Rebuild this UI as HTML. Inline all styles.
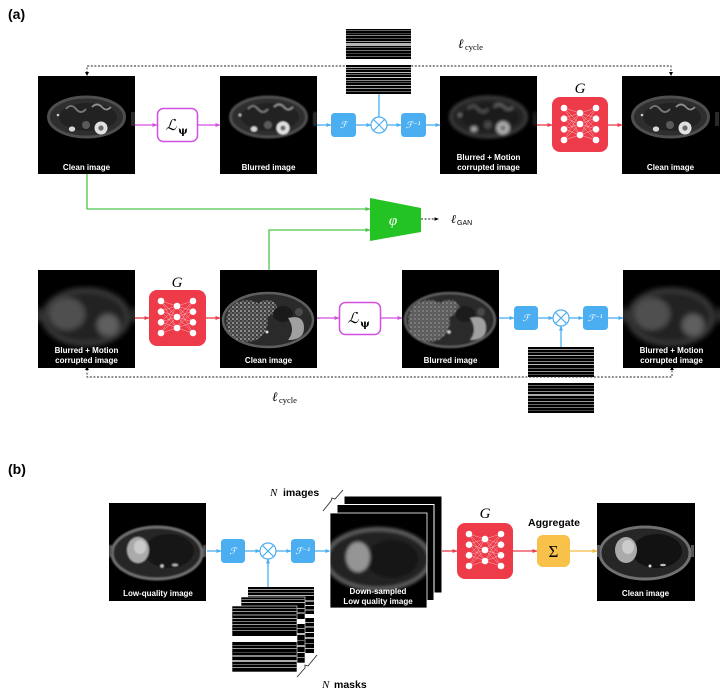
<!DOCTYPE html>
<html><head><meta charset="utf-8"><style>
html,body{margin:0;padding:0;background:#fff;}
svg{display:block;}
.lbl{font-family:"Liberation Sans",sans-serif;font-weight:bold;font-size:8px;fill:#fff;text-anchor:middle;}
.fb{font-family:"DejaVu Serif","Liberation Serif",serif;font-style:italic;font-size:9px;fill:#fff;text-anchor:middle;}
.ser{font-family:"Liberation Serif","DejaVu Serif",serif;}
</style></head><body>
<svg width="720" height="695" viewBox="0 0 720 695" xmlns="http://www.w3.org/2000/svg">
<defs>
<clipPath id="cimg" clipPathUnits="userSpaceOnUse"><rect width="97" height="98"/></clipPath>
<clipPath id="cimg2" clipPathUnits="userSpaceOnUse"><rect width="97" height="95"/></clipPath>
<filter id="bl1" x="-10%" y="-10%" width="120%" height="120%"><feGaussianBlur stdDeviation="0.8"/></filter>
<filter id="bl2" x="-10%" y="-10%" width="120%" height="120%"><feGaussianBlur stdDeviation="1.7"/></filter>
<filter id="bl3" x="-10%" y="-10%" width="120%" height="120%"><feGaussianBlur stdDeviation="2.6"/></filter>
<pattern id="spk" width="4" height="4" patternUnits="userSpaceOnUse">
<rect width="4" height="4" fill="#3e3e3e"/><circle cx="1" cy="1" r="0.9" fill="#c4c4c4"/><circle cx="3" cy="3" r="0.7" fill="#9a9a9a"/>
</pattern>
<marker id="mB" markerWidth="5" markerHeight="5" refX="4.5" refY="2.5" orient="auto" markerUnits="userSpaceOnUse"><path d="M0,0.5 L5,2.5 L0,4.5z" fill="#4aaef0"/></marker>
<marker id="mR" markerWidth="5" markerHeight="5" refX="4.5" refY="2.5" orient="auto" markerUnits="userSpaceOnUse"><path d="M0,0.5 L5,2.5 L0,4.5z" fill="#ee3b4a"/></marker>
<marker id="mM" markerWidth="5" markerHeight="5" refX="4.5" refY="2.5" orient="auto" markerUnits="userSpaceOnUse"><path d="M0,0.5 L5,2.5 L0,4.5z" fill="#d24fe0"/></marker>
<marker id="mG" markerWidth="5" markerHeight="5" refX="4.5" refY="2.5" orient="auto" markerUnits="userSpaceOnUse"><path d="M0,0.5 L5,2.5 L0,4.5z" fill="#4cc54c"/></marker>
<marker id="mO" markerWidth="5" markerHeight="5" refX="4.5" refY="2.5" orient="auto" markerUnits="userSpaceOnUse"><path d="M0,0.5 L5,2.5 L0,4.5z" fill="#f4b942"/></marker>
<marker id="mK" markerWidth="5" markerHeight="5" refX="4.5" refY="2.5" orient="auto" markerUnits="userSpaceOnUse"><path d="M0,0.8 L4.5,2.5 L0,4.2z" fill="#000"/></marker>

<!-- top-row abdomen (kidney level) content -->
<g id="kidI">
<ellipse cx="48.5" cy="41" rx="38" ry="20" fill="#2e2e2e" stroke="#4e4e4e" stroke-width="3"/>
<ellipse cx="50" cy="41" rx="29" ry="14" fill="#222"/>
<path d="M28 33 q5 -6 10 0 q5 6 10 0" stroke="#7a7a7a" fill="none" stroke-width="1.8"/>
<path d="M54 31 q5 -5 10 0 q4 5 9 0" stroke="#8f8f8f" fill="none" stroke-width="1.8"/>
<circle cx="63" cy="52" r="6.5" fill="#e0e0e0"/><circle cx="63" cy="52" r="2.6" fill="#6a6a6a"/>
<ellipse cx="34" cy="53" rx="3.2" ry="2.6" fill="#d6d6d6"/>
<circle cx="48" cy="49" r="4" fill="#5a5a5a"/>
<circle cx="20" cy="39" r="1.3" fill="#ccc"/>
<rect x="93" y="36" width="4" height="14" fill="#2a2a2a"/>
</g>
<!-- bottom-row liver slice content -->
<g id="livI">
<ellipse cx="48" cy="50" rx="45" ry="27" fill="#2a2a2a" stroke="#5e5e5e" stroke-width="2.5"/>
<ellipse cx="27" cy="51" rx="21" ry="21" fill="url(#spk)"/>
<ellipse cx="47" cy="38" rx="10" ry="8" fill="url(#spk)"/>
<ellipse cx="63" cy="44" rx="10" ry="8" fill="#1a1a1a"/>
<path d="M68 48 q16 -4 16 10 q0 12 -16 12 q8 -10 0 -22z" fill="#a0a0a0"/>
<circle cx="79" cy="42" r="4" fill="#4a4a4a"/>
<circle cx="47" cy="62" r="1.5" fill="#ddd"/>
</g>
<g id="livMI">
<ellipse cx="48" cy="47" rx="42" ry="27" fill="#222" stroke="#3a3a3a" stroke-width="5"/>
<ellipse cx="29" cy="44" rx="18" ry="16" fill="#505050"/>
<ellipse cx="70" cy="55" rx="11" ry="11" fill="#5e5e5e"/>
<rect x="-3" y="38" width="6" height="14" fill="#333"/>
<rect x="94" y="38" width="6" height="14" fill="#333"/>
</g>
<!-- part b body -->
<g id="lesI">
<ellipse cx="48" cy="50" rx="45" ry="26" fill="#262626" stroke="#707070" stroke-width="3"/>
<ellipse cx="60" cy="48" rx="25" ry="17" fill="#121212"/>
<ellipse cx="29" cy="47" rx="11" ry="13" fill="#aaaaaa"/>
<ellipse cx="31" cy="44" rx="6" ry="7" fill="#cbcbcb"/>
<circle cx="53" cy="63" r="1.5" fill="#ddd"/>
<ellipse cx="66" cy="62" rx="3" ry="1.2" fill="#bbb"/>
<rect x="0" y="42" width="3" height="12" fill="#555"/>
<rect x="94" y="42" width="3" height="12" fill="#555"/>
</g>
<g id="lesZI">
<ellipse cx="48" cy="46" rx="52" ry="30" fill="#222" stroke="#5e5e5e" stroke-width="4"/>
<ellipse cx="62" cy="46" rx="26" ry="19" fill="#121212"/>
<ellipse cx="28" cy="44" rx="12" ry="15" fill="#959595"/>
</g>
<g id="gnet">
<g stroke="#f8b0b6" stroke-width="0.5">
<path d="M12 11 L28 16 M12 11 L28 27 M12 21 L28 16 M12 21 L28 38 M12 32 L28 16 M12 32 L28 27 M12 43 L28 27 M12 43 L28 38 M12 21 L28 27 M12 32 L28 38 M12 11 L28 38 M12 43 L28 16"/>
<path d="M44 11 L28 16 M44 11 L28 27 M44 21 L28 16 M44 21 L28 38 M44 32 L28 16 M44 32 L28 27 M44 43 L28 27 M44 43 L28 38 M44 21 L28 27 M44 32 L28 38 M44 11 L28 38 M44 43 L28 16"/>
</g>
<g fill="#fff"><circle cx="12" cy="11" r="3.3"/><circle cx="12" cy="21.7" r="3.3"/><circle cx="12" cy="32.3" r="3.3"/><circle cx="12" cy="43" r="3.3"/>
<circle cx="28" cy="16" r="3.3"/><circle cx="28" cy="27" r="3.3"/><circle cx="28" cy="38" r="3.3"/>
<circle cx="44" cy="11" r="3.3"/><circle cx="44" cy="21.7" r="3.3"/><circle cx="44" cy="32.3" r="3.3"/><circle cx="44" cy="43" r="3.3"/></g>
</g>
</defs>

<rect width="720" height="695" fill="#fff"/>

<!-- ===== (a) ===== -->
<text x="8" y="19" font-family="Liberation Sans,sans-serif" font-weight="bold" font-size="14">(a)</text>

<!-- top dashed cycle -->
<path d="M87 73 V66 H671 V73" fill="none" stroke="#222" stroke-width="0.9" stroke-dasharray="2,1.6"/>
<path d="M85 72 L89 72 L87 76z" fill="#000"/>
<path d="M669 72 L673 72 L671 76z" fill="#000"/>
<text x="458" y="48" class="ser" font-style="italic" font-size="13">ℓ</text>
<text x="465" y="50" class="ser" font-size="8.5">cycle</text>

<!-- top masks -->
<g>
<rect x="346" y="29" width="65" height="30" fill="#000"/>
<rect x="346" y="30" width="65" height="1" fill="#666"/>
<rect x="346" y="33" width="65" height="1" fill="#444"/>
<rect x="346" y="35" width="65" height="1" fill="#888"/>
<rect x="346" y="38" width="65" height="1" fill="#555"/>
<rect x="346" y="41" width="65" height="1" fill="#999"/>
<rect x="346" y="43" width="65" height="3" fill="#b5b5b5"/>
<rect x="346" y="47" width="65" height="1" fill="#666"/>
<rect x="346" y="50" width="65" height="1" fill="#777"/>
<rect x="346" y="53" width="65" height="1" fill="#444"/>
<rect x="346" y="56" width="65" height="1" fill="#6a6a6a"/>
<rect x="346" y="65" width="65" height="29" fill="#000"/>
<rect x="346" y="67" width="65" height="1" fill="#aaa"/>
<rect x="346" y="69" width="65" height="1" fill="#777"/>
<rect x="346" y="72" width="65" height="1" fill="#bbb"/>
<rect x="346" y="74" width="65" height="1" fill="#666"/>
<rect x="346" y="77" width="65" height="1" fill="#ccc"/>
<rect x="346" y="80" width="65" height="1" fill="#888"/>
<rect x="346" y="82" width="65" height="1" fill="#555"/>
<rect x="346" y="85" width="65" height="1" fill="#aaa"/>
<rect x="346" y="88" width="65" height="1" fill="#999"/>
<rect x="346" y="91" width="65" height="1" fill="#666"/>
</g>

<!-- top row images -->
<g transform="translate(38,76)"><rect width="97" height="98" fill="#000"/><g clip-path="url(#cimg)"><use href="#kidI"/></g></g>
<text x="86.5" y="170" class="lbl">Clean image</text>
<g transform="translate(220,76)"><rect width="97" height="98" fill="#000"/><g clip-path="url(#cimg)"><g filter="url(#bl1)"><use href="#kidI"/></g></g></g>
<text x="268.5" y="170" class="lbl">Blurred image</text>
<g transform="translate(440,76)"><rect width="97" height="98" fill="#000"/><g clip-path="url(#cimg)"><g filter="url(#bl2)" opacity="0.8"><use href="#kidI"/></g></g></g>
<text x="488.5" y="160" class="lbl">Blurred + Motion</text>
<text x="488.5" y="170" class="lbl">corrupted image</text>
<g transform="translate(622,76)"><rect width="98" height="98" fill="#000"/><g clip-path="url(#cimg)"><use href="#kidI"/></g></g>
<text x="670.5" y="170" class="lbl">Clean image</text>

<!-- L psi top -->
<rect x="157.5" y="108.5" width="40" height="33" rx="6" fill="#fff" stroke="#d24fe0" stroke-width="1.5"/>
<text x="171" y="130" font-family="DejaVu Serif,serif" font-style="italic" font-size="15" text-anchor="middle">ℒ</text>
<text x="183" y="134" font-family="DejaVu Serif,serif" font-weight="bold" font-size="10" text-anchor="middle">ψ</text>
<line x1="135" y1="125" x2="157" y2="125" stroke="#d24fe0" stroke-width="1.3" marker-end="url(#mM)"/>
<line x1="198" y1="125" x2="220" y2="125" stroke="#d24fe0" stroke-width="1.3" marker-end="url(#mM)"/>

<!-- top fourier -->
<line x1="317" y1="125" x2="331" y2="125" stroke="#4aaef0" stroke-width="1.3" marker-end="url(#mB)"/>
<rect x="331" y="113" width="25" height="24" rx="3.5" fill="#4aaef0"/>
<text x="343.5" y="128" class="fb">ℱ</text>
<line x1="356" y1="125" x2="371" y2="125" stroke="#4aaef0" stroke-width="1.3" marker-end="url(#mB)"/>
<circle cx="379" cy="125" r="8" fill="#fff" stroke="#4aaef0" stroke-width="1.2"/>
<path d="M373.3 119.3 L384.7 130.7 M384.7 119.3 L373.3 130.7" stroke="#4aaef0" stroke-width="1.1"/>
<line x1="379" y1="94" x2="379" y2="117" stroke="#4aaef0" stroke-width="1.3"/>
<line x1="387" y1="125" x2="401" y2="125" stroke="#4aaef0" stroke-width="1.3" marker-end="url(#mB)"/>
<rect x="401" y="113" width="25" height="24" rx="3.5" fill="#4aaef0"/>
<text x="413.5" y="128" class="fb">ℱ⁻¹</text>
<line x1="426" y1="125" x2="440" y2="125" stroke="#4aaef0" stroke-width="1.3" marker-end="url(#mB)"/>

<!-- top G -->
<line x1="537" y1="125" x2="552" y2="125" stroke="#ee3b4a" stroke-width="1.3" marker-end="url(#mR)"/>
<text x="580" y="93" class="ser" font-style="italic" font-size="15" text-anchor="middle">G</text>
<g transform="translate(552,97)"><rect width="56" height="55" rx="8" fill="#ee3b4a"/><use href="#gnet"/></g>
<line x1="608" y1="125" x2="622" y2="125" stroke="#ee3b4a" stroke-width="1.3" marker-end="url(#mR)"/>

<!-- green discriminator paths -->
<path d="M87 174 V209 H370" fill="none" stroke="#4cc54c" stroke-width="1.3" marker-end="url(#mG)"/>
<path d="M269 270 V230 H370" fill="none" stroke="#4cc54c" stroke-width="1.3" marker-end="url(#mG)"/>
<polygon points="370,198 421,208 421,232 370,241" fill="#22c322"/>
<text x="393" y="225" class="ser" font-style="italic" font-size="15" fill="#fff" text-anchor="middle">φ</text>
<line x1="421" y1="219" x2="439" y2="219" stroke="#222" stroke-width="0.9" stroke-dasharray="2,1.6" marker-end="url(#mK)"/>
<text x="451" y="223" class="ser" font-style="italic" font-size="12">ℓ</text>
<text x="457" y="225" font-family="Liberation Sans,sans-serif" font-size="7">GAN</text>

<!-- bottom row -->
<g transform="translate(38,270)"><rect width="97" height="98" fill="#000"/><g clip-path="url(#cimg)"><g filter="url(#bl3)"><use href="#livMI"/></g></g></g>
<text x="86.5" y="353" class="lbl">Blurred + Motion</text>
<text x="86.5" y="363" class="lbl">corrupted image</text>
<line x1="135" y1="318" x2="149" y2="318" stroke="#ee3b4a" stroke-width="1.3" marker-end="url(#mR)"/>
<text x="177" y="287" class="ser" font-style="italic" font-size="15" text-anchor="middle">G</text>
<g transform="translate(149,290)"><rect width="57" height="56" rx="8" fill="#ee3b4a"/><use href="#gnet"/></g>
<line x1="206" y1="318" x2="220" y2="318" stroke="#ee3b4a" stroke-width="1.3" marker-end="url(#mR)"/>
<g transform="translate(220,270)"><rect width="97" height="98" fill="#000"/><g clip-path="url(#cimg)"><use href="#livI"/></g></g>
<text x="268.5" y="363" class="lbl">Clean image</text>
<line x1="317" y1="318" x2="339" y2="318" stroke="#d24fe0" stroke-width="1.3" marker-end="url(#mM)"/>
<rect x="339.5" y="302.5" width="41" height="32" rx="6" fill="#fff" stroke="#d24fe0" stroke-width="1.5"/>
<text x="353" y="323" font-family="DejaVu Serif,serif" font-style="italic" font-size="15" text-anchor="middle">ℒ</text>
<text x="365" y="327" font-family="DejaVu Serif,serif" font-weight="bold" font-size="10" text-anchor="middle">ψ</text>
<line x1="381" y1="318" x2="402" y2="318" stroke="#d24fe0" stroke-width="1.3" marker-end="url(#mM)"/>
<g transform="translate(402,270)"><rect width="97" height="98" fill="#000"/><g clip-path="url(#cimg)"><g filter="url(#bl1)"><use href="#livI"/></g></g></g>
<text x="450.5" y="363" class="lbl">Blurred image</text>
<line x1="499" y1="318" x2="514" y2="318" stroke="#4aaef0" stroke-width="1.3" marker-end="url(#mB)"/>
<rect x="514" y="306" width="24" height="24" rx="3.5" fill="#4aaef0"/>
<text x="526" y="321" class="fb">ℱ</text>
<line x1="538" y1="318" x2="553" y2="318" stroke="#4aaef0" stroke-width="1.3" marker-end="url(#mB)"/>
<circle cx="561" cy="318" r="8" fill="#fff" stroke="#4aaef0" stroke-width="1.2"/>
<path d="M555.3 312.3 L566.7 323.7 M566.7 312.3 L555.3 323.7" stroke="#4aaef0" stroke-width="1.1"/>
<line x1="561" y1="347" x2="561" y2="326" stroke="#4aaef0" stroke-width="1.3" marker-end="url(#mB)"/>
<line x1="569" y1="318" x2="583" y2="318" stroke="#4aaef0" stroke-width="1.3" marker-end="url(#mB)"/>
<rect x="583" y="306" width="25" height="24" rx="3.5" fill="#4aaef0"/>
<text x="595.5" y="321" class="fb">ℱ⁻¹</text>
<line x1="608" y1="318" x2="623" y2="318" stroke="#4aaef0" stroke-width="1.3" marker-end="url(#mB)"/>
<g transform="translate(623,270)"><rect width="97" height="98" fill="#000"/><g clip-path="url(#cimg)"><g filter="url(#bl3)"><use href="#livMI"/></g></g></g>
<text x="671.5" y="353" class="lbl">Blurred + Motion</text>
<text x="671.5" y="363" class="lbl">corrupted image</text>

<!-- bottom masks -->
<g>
<rect x="528" y="347" width="66" height="30" fill="#000"/>
<rect x="528" y="349" width="66" height="1" fill="#999"/>
<rect x="528" y="352" width="66" height="1" fill="#666"/>
<rect x="528" y="355" width="66" height="1" fill="#aaa"/>
<rect x="528" y="358" width="66" height="1" fill="#555"/>
<rect x="528" y="361" width="66" height="1" fill="#888"/>
<rect x="528" y="364" width="66" height="1" fill="#bbb"/>
<rect x="528" y="368" width="66" height="1" fill="#666"/>
<rect x="528" y="371" width="66" height="1" fill="#999"/>
<rect x="528" y="374" width="66" height="1" fill="#555"/>
<rect x="528" y="383" width="66" height="30" fill="#000"/>
<rect x="528" y="385" width="66" height="1" fill="#666"/>
<rect x="528" y="388" width="66" height="1" fill="#444"/>
<rect x="528" y="391" width="66" height="1" fill="#888"/>
<rect x="528" y="394" width="66" height="2" fill="#aaa"/>
<rect x="528" y="398" width="66" height="1" fill="#555"/>
<rect x="528" y="401" width="66" height="1" fill="#999"/>
<rect x="528" y="404" width="66" height="1" fill="#666"/>
<rect x="528" y="407" width="66" height="1" fill="#777"/>
<rect x="528" y="410" width="66" height="1" fill="#444"/>
</g>

<!-- bottom dashed cycle -->
<path d="M87 369 V377 H672 V369" fill="none" stroke="#222" stroke-width="0.9" stroke-dasharray="2,1.6"/>
<path d="M85 370 L89 370 L87 366.5z" fill="#000"/>
<path d="M670 370 L674 370 L672 366.5z" fill="#000"/>
<text x="272" y="401" class="ser" font-style="italic" font-size="13">ℓ</text>
<text x="279" y="403" class="ser" font-size="8.5">cycle</text>

<!-- ===== (b) ===== -->
<text x="8" y="474" font-family="Liberation Sans,sans-serif" font-weight="bold" font-size="14">(b)</text>

<g transform="translate(109,503)"><rect width="97" height="98" fill="#000"/><g clip-path="url(#cimg)"><g filter="url(#bl1)"><use href="#lesI"/></g></g></g>
<text x="158" y="596" class="lbl">Low-quality image</text>
<line x1="207" y1="551" x2="221" y2="551" stroke="#4aaef0" stroke-width="1.3" marker-end="url(#mB)"/>
<rect x="221" y="539" width="24" height="24" rx="3.5" fill="#4aaef0"/>
<text x="233" y="554" class="fb">ℱ</text>
<line x1="245" y1="551" x2="260" y2="551" stroke="#4aaef0" stroke-width="1.3" marker-end="url(#mB)"/>
<circle cx="268" cy="551" r="8" fill="#fff" stroke="#4aaef0" stroke-width="1.2"/>
<path d="M262.3 545.3 L273.7 556.7 M273.7 545.3 L262.3 556.7" stroke="#4aaef0" stroke-width="1.1"/>
<line x1="268" y1="587" x2="268" y2="559" stroke="#4aaef0" stroke-width="1.3" marker-end="url(#mB)"/>
<line x1="276" y1="551" x2="291" y2="551" stroke="#4aaef0" stroke-width="1.3" marker-end="url(#mB)"/>
<rect x="291" y="539" width="24" height="24" rx="3.5" fill="#4aaef0"/>
<text x="303" y="554" class="fb">ℱ⁻¹</text>
<line x1="315" y1="551" x2="330" y2="551" stroke="#4aaef0" stroke-width="1.3" marker-end="url(#mB)"/>

<!-- N images -->
<text x="270" y="496" class="ser" font-style="italic" font-size="11">N</text>
<text x="283" y="496" font-family="Liberation Sans,sans-serif" font-weight="bold" font-size="10.5">images</text>
<path d="M323 511 L331 501 L332 498 L335 499 L343 490" fill="none" stroke="#222" stroke-width="0.8"/>

<!-- stacked images -->
<rect x="344" y="496" width="98" height="97" fill="#000" stroke="#fff" stroke-width="1"/>
<rect x="337" y="504.5" width="97" height="96" fill="#000" stroke="#fff" stroke-width="1"/>
<g transform="translate(330,513)"><rect width="97" height="95" fill="#000"/><g clip-path="url(#cimg2)"><g filter="url(#bl2)"><use href="#lesZI"/></g></g></g>
<rect x="330" y="513" width="97" height="95" fill="none" stroke="#fff" stroke-width="0.8"/>
<text x="378" y="594" class="lbl">Down-sampled</text>
<text x="378" y="604" class="lbl">Low quality image</text>

<!-- masks stack b -->
<g>
<rect x="248" y="587" width="66" height="66" fill="#000"/>
<rect x="248" y="589" width="66" height="1" fill="#999"/>
<rect x="248" y="592" width="66" height="1" fill="#666"/>
<rect x="248" y="595" width="66" height="1" fill="#bbb"/>
<rect x="305" y="600" width="9" height="2" fill="#888"/>
<rect x="305" y="605" width="9" height="1" fill="#ddd"/>
<rect x="305" y="609" width="9" height="2" fill="#666"/>
<rect x="305" y="614" width="9" height="4" fill="#fff"/>
<rect x="305" y="622" width="9" height="1" fill="#aaa"/>
<rect x="305" y="626" width="9" height="2" fill="#777"/>
<rect x="305" y="632" width="9" height="1" fill="#ddd"/>
<rect x="305" y="637" width="9" height="2" fill="#aaa"/>
<rect x="305" y="643" width="9" height="1" fill="#777"/>
<rect x="305" y="648" width="9" height="1" fill="#bbb"/>
</g>
<g>
<rect x="241" y="597" width="64" height="66" fill="#000" stroke="#fff" stroke-width="0.6"/>
<rect x="241" y="599" width="64" height="1" fill="#777"/>
<rect x="241" y="602" width="64" height="1" fill="#bbb"/>
<rect x="297" y="608" width="8" height="1" fill="#aaa"/>
<rect x="297" y="612" width="8" height="2" fill="#777"/>
<rect x="297" y="619" width="8" height="5" fill="#fff"/>
<rect x="297" y="628" width="8" height="1" fill="#999"/>
<rect x="297" y="633" width="8" height="2" fill="#bbb"/>
<rect x="297" y="640" width="8" height="1" fill="#666"/>
<rect x="297" y="645" width="8" height="2" fill="#aaa"/>
<rect x="297" y="652" width="8" height="1" fill="#ccc"/>
<rect x="297" y="657" width="8" height="1" fill="#888"/>
</g>
<g>
<rect x="232" y="606" width="65" height="66" fill="#000" stroke="#fff" stroke-width="0.6"/>
<rect x="232" y="608" width="65" height="1" fill="#777"/>
<rect x="232" y="611" width="65" height="1" fill="#999"/>
<rect x="232" y="614" width="65" height="2" fill="#555"/>
<rect x="232" y="618" width="65" height="1" fill="#aaa"/>
<rect x="232" y="621" width="65" height="1" fill="#777"/>
<rect x="232" y="624" width="65" height="1" fill="#999"/>
<rect x="232" y="627" width="65" height="1" fill="#555"/>
<rect x="232" y="630" width="65" height="1" fill="#888"/>
<rect x="232" y="636" width="65" height="6" fill="#fff"/>
<rect x="232" y="645" width="65" height="1" fill="#666"/>
<rect x="232" y="648" width="65" height="1" fill="#999"/>
<rect x="232" y="652" width="65" height="1" fill="#444"/>
<rect x="232" y="655" width="65" height="2" fill="#888"/>
<rect x="232" y="660" width="65" height="2" fill="#aaa"/>
<rect x="232" y="664" width="65" height="1" fill="#666"/>
<rect x="232" y="667" width="65" height="1" fill="#999"/>
</g>
<path d="M297 677 L305 668 L305 665 L308 666 L317 655" fill="none" stroke="#222" stroke-width="0.8"/>
<text x="322" y="688" class="ser" font-style="italic" font-size="11">N</text>
<text x="334" y="688" font-family="Liberation Sans,sans-serif" font-weight="bold" font-size="10.5">masks</text>

<!-- G in b -->
<line x1="442" y1="551" x2="457" y2="551" stroke="#ee3b4a" stroke-width="1.3" marker-end="url(#mR)"/>
<text x="485" y="518" class="ser" font-style="italic" font-size="15" text-anchor="middle">G</text>
<g transform="translate(457,523)"><rect width="56" height="56" rx="8" fill="#ee3b4a"/><use href="#gnet"/></g>
<line x1="513" y1="551" x2="537" y2="551" stroke="#ee3b4a" stroke-width="1.3" marker-end="url(#mR)"/>

<!-- aggregate -->
<text x="554" y="526" font-family="Liberation Sans,sans-serif" font-weight="bold" font-size="10.5" text-anchor="middle">Aggregate</text>
<rect x="537" y="535" width="33" height="32" rx="6" fill="#f7c14a"/>
<text x="553.5" y="557" class="ser" font-size="17" text-anchor="middle">Σ</text>
<line x1="570" y1="551" x2="597" y2="551" stroke="#f4b942" stroke-width="1.3" marker-end="url(#mO)"/>

<g transform="translate(597,503)"><rect width="98" height="98" fill="#000"/><g clip-path="url(#cimg)"><use href="#lesI"/></g></g>
<text x="645.5" y="596" class="lbl">Clean image</text>
</svg>
</body></html>
